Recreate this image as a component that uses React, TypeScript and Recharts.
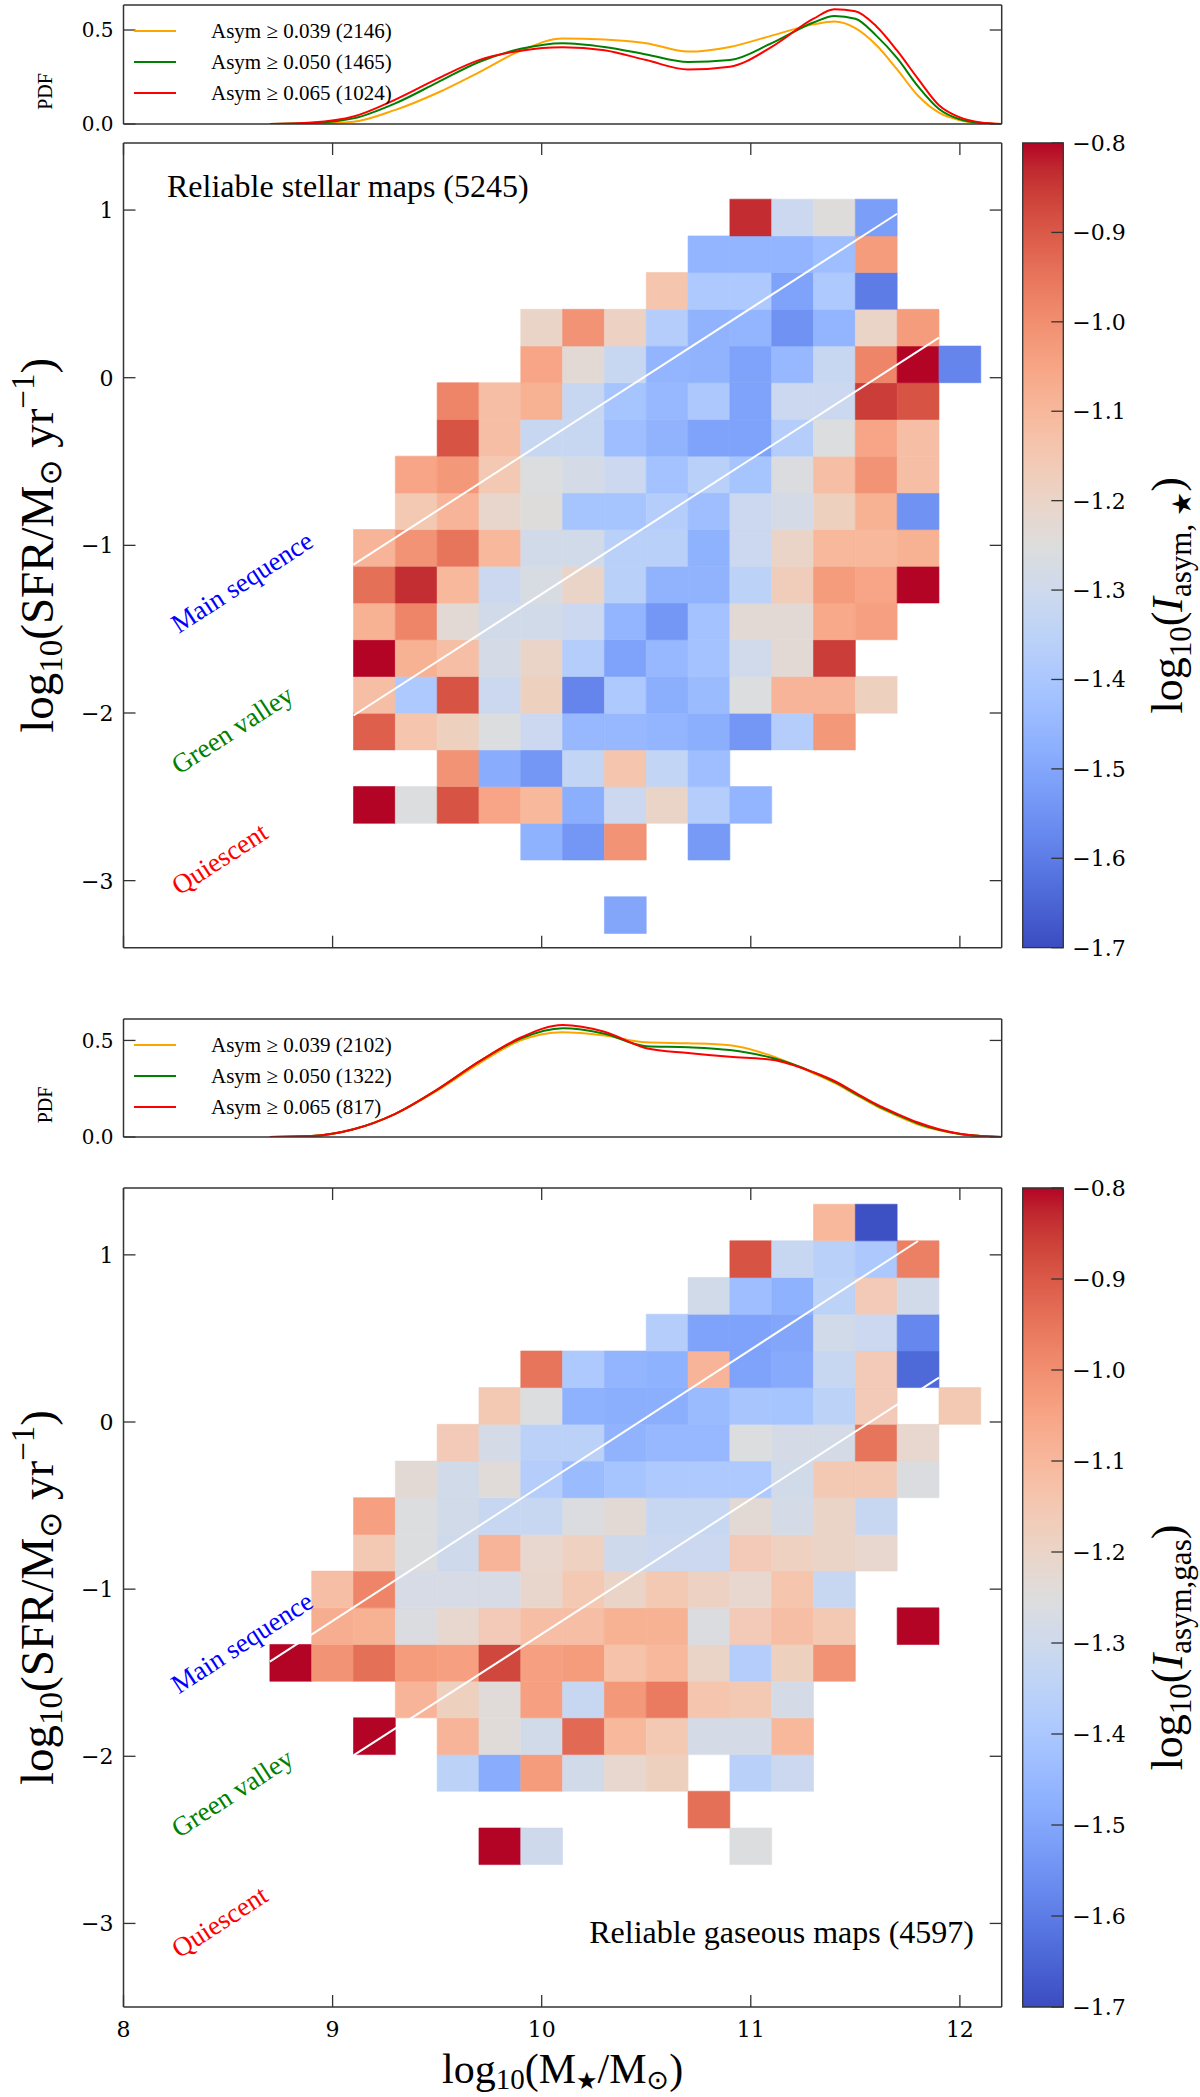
import React from 'react';
import { ComposedChart, XAxis, YAxis, Line, ReferenceArea, ReferenceLine, ReferenceDot } from 'recharts';

// ---------------- page / panel geometry ----------------
const PAGE_W = 1200;
const PAGE_H = 2097;
const PLOT_L = 123.5;
const PLOT_R = 1001.7;
const CB_L = 1022.7;
const CB_R = 1063.3;
const PDF1 = { top: 5, bottom: 124 };
const MAP1 = { top: 143, bottom: 947.7 };
const PDF2 = { top: 1019, bottom: 1137 };
const MAP2 = { top: 1188, bottom: 2007 };

const VMIN = -1.7;
const VMAX = -0.8;

// ---------------- data ----------------
const massEdges = [8.7, 8.9, 9.1, 9.3, 9.5, 9.7, 9.9, 10.1, 10.3, 10.5, 10.7, 10.9, 11.1, 11.3, 11.5, 11.7, 11.9, 12.1];
const stellarSfrEdges = [-3.315, -3.096, -2.877, -2.658, -2.439, -2.22, -2.001, -1.782, -1.563, -1.344, -1.125, -0.906, -0.687, -0.468, -0.249, -0.03, 0.189, 0.408, 0.627, 0.846, 1.065];
const gasSfrEdges = [-2.648, -2.429, -2.209, -1.99, -1.77, -1.551, -1.331, -1.112, -0.892, -0.673, -0.453, -0.234, -0.014, 0.206, 0.425, 0.645, 0.864, 1.084, 1.303];

const N = null;
// rows from lowest SFR bin upward, 17 mass columns (8.7 ... 12.1)
const stellarAsym: (number | null)[][] = [
  [N, N, N, N, N, N, N, N, -1.5, N, N, N, N, N, N, N, N],
  [N, N, N, N, N, N, N, N, N, N, N, N, N, N, N, N, N],
  [N, N, N, N, N, N, -1.47, -1.54, -1.01, N, -1.53, N, N, N, N, N, N],
  [N, N, -0.8, -1.255, -0.89, -1.05, -1.1, -1.48, -1.31, -1.2, -1.375, -1.46, N, N, N, N, N],
  [N, N, N, N, -1.01, -1.485, -1.54, -1.335, -1.14, -1.335, -1.43, N, N, N, N, N, N],
  [N, N, -0.91, -1.14, -1.18, -1.255, -1.31, -1.45, -1.45, -1.46, -1.48, -1.54, -1.375, -1.02, N, N, N],
  [N, N, -1.12, -1.39, -0.89, -1.31, -1.18, -1.58, -1.39, -1.48, -1.44, -1.255, -1.09, -1.09, -1.18, N, N],
  [N, N, -0.8, -1.08, -1.12, -1.28, -1.2, -1.375, -1.51, -1.45, -1.42, -1.295, -1.23, -0.855, N, N, N],
  [N, N, -1.08, -0.98, -1.23, -1.29, -1.29, -1.31, -1.46, -1.54, -1.42, -1.23, -1.23, -1.06, -1.04, N, N],
  [N, N, -0.94, -0.836, -1.1, -1.31, -1.27, -1.2, -1.36, -1.465, -1.465, -1.35, -1.17, -1.03, -1.05, -0.8, N],
  [N, N, -1.09, -1.01, -0.95, -1.1, -1.29, -1.29, -1.36, -1.36, -1.47, -1.31, -1.2, -1.1, -1.1, -1.08, N],
  [N, N, N, -1.155, -1.09, -1.21, -1.245, -1.41, -1.41, -1.375, -1.43, -1.31, -1.28, -1.18, -1.08, -1.55, N],
  [N, N, N, -1.05, -1.02, -1.155, -1.255, -1.28, -1.31, -1.42, -1.36, -1.41, -1.26, -1.12, -1.01, -1.12, N],
  [N, N, N, N, -0.89, -1.12, -1.32, -1.32, -1.43, -1.465, -1.51, -1.51, -1.375, -1.255, -1.05, -1.12, N],
  [N, N, N, N, -0.98, -1.12, -1.08, -1.32, -1.41, -1.45, -1.395, -1.51, -1.31, -1.31, -0.855, -0.89, N],
  [N, N, N, N, N, N, -1.05, -1.23, -1.32, -1.46, -1.465, -1.51, -1.45, -1.32, -0.98, -0.8, -1.58],
  [N, N, N, N, N, N, -1.2, -1.01, -1.19, -1.375, -1.465, -1.46, -1.55, -1.46, -1.2, -1.03, N],
  [N, N, N, N, N, N, N, N, N, -1.14, -1.39, -1.39, -1.51, -1.39, -1.6, N, N],
  [N, N, N, N, N, N, N, N, N, N, -1.46, -1.46, -1.46, -1.43, -1.03, N, N],
  [N, N, N, N, N, N, N, N, N, N, N, -0.835, -1.31, -1.245, -1.52, N, N],
];

const gasAsym: (number | null)[][] = [
  [N, N, N, N, N, -0.8, -1.3, N, N, N, N, -1.255, N, N, N, N, N],
  [N, N, N, N, N, N, N, N, N, N, -0.94, N, N, N, N, N, N],
  [N, N, N, N, -1.35, -1.485, -1.03, -1.29, -1.215, -1.18, N, -1.36, -1.31, N, N, N, N],
  [N, N, -0.8, N, -1.09, -1.24, -1.29, -0.93, -1.1, -1.155, -1.28, -1.28, -1.1, N, N, N, N],
  [N, N, N, -1.09, -1.18, -1.24, -1.04, -1.32, -1.02, -0.96, -1.14, -1.155, -1.28, N, N, N, N],
  [-0.8, -1.01, -0.94, -1.03, -1.04, -0.87, -1.04, -1.03, -1.13, -1.1, -1.2, -1.375, -1.18, -1.01, N, N, N],
  [N, -1.07, -1.08, -1.26, -1.215, -1.16, -1.12, -1.12, -1.08, -1.08, -1.26, -1.16, -1.12, -1.155, N, -0.8, N],
  [N, -1.12, -0.98, -1.275, -1.275, -1.275, -1.21, -1.155, -1.2, -1.155, -1.19, -1.215, -1.14, -1.32, N, N, N],
  [N, N, -1.155, -1.255, -1.3, -1.09, -1.215, -1.185, -1.3, -1.31, -1.31, -1.16, -1.185, -1.2, -1.215, N, N],
  [N, N, -1.04, -1.255, -1.29, -1.32, -1.32, -1.26, -1.23, -1.32, -1.32, -1.23, -1.28, -1.2, -1.32, N, N],
  [N, N, N, -1.23, -1.29, -1.24, -1.375, -1.44, -1.41, -1.39, -1.39, -1.39, -1.29, -1.155, -1.155, -1.26, N],
  [N, N, N, N, -1.16, -1.28, -1.355, -1.355, -1.465, -1.45, -1.45, -1.255, -1.28, -1.28, -0.95, -1.215, N],
  [N, N, N, N, N, -1.155, -1.255, -1.47, -1.48, -1.48, -1.44, -1.405, -1.41, -1.35, -1.16, N, -1.155],
  [N, N, N, N, N, N, -0.95, -1.39, -1.46, -1.47, -1.09, -1.51, -1.49, -1.32, -1.16, -1.64, N],
  [N, N, N, N, N, N, N, N, N, -1.375, -1.51, -1.51, -1.5, -1.29, -1.31, -1.575, N],
  [N, N, N, N, N, N, N, N, N, N, -1.29, -1.43, -1.47, -1.35, -1.16, -1.29, N],
  [N, N, N, N, N, N, N, N, N, N, N, -0.89, -1.32, -1.36, -1.395, -0.97, N],
  [N, N, N, N, N, N, N, N, N, N, N, N, N, -1.1, -1.69, N, N],
];

// main-sequence and green-valley dividing lines (end points)
const stellarMsLine = [{ x: 9.1, y: -1.115 }, { x: 11.7, y: 0.978 }];
const stellarGvLine = [{ x: 9.1, y: -2.015 }, { x: 11.9, y: 0.239 }];
const gasMsLine = [{ x: 8.7, y: -1.434 }, { x: 11.8, y: 1.083 }];
const gasGvLine = [{ x: 9.1, y: -1.995 }, { x: 11.9, y: 0.265 }];

// PDFs of stellar mass
const pdfMass = [8.7, 8.9, 9.1, 9.3, 9.5, 9.7, 9.9, 10.1, 10.3, 10.5, 10.7, 10.9, 11.1, 11.3, 11.4, 11.5, 11.6, 11.7, 11.8, 11.9, 12.0, 12.1, 12.2];
const stellarPdf039 = [0, 0.002, 0.012, 0.075, 0.165, 0.275, 0.39, 0.455, 0.45, 0.43, 0.385, 0.41, 0.47, 0.53, 0.545, 0.51, 0.42, 0.29, 0.15, 0.06, 0.02, 0.005, 0];
const stellarPdf050 = [0, 0.005, 0.03, 0.11, 0.22, 0.33, 0.4, 0.43, 0.41, 0.37, 0.33, 0.34, 0.43, 0.54, 0.575, 0.56, 0.47, 0.35, 0.2, 0.08, 0.025, 0.006, 0];
const stellarPdf065 = [0, 0.008, 0.04, 0.13, 0.24, 0.34, 0.39, 0.408, 0.392, 0.34, 0.29, 0.305, 0.41, 0.56, 0.61, 0.6, 0.52, 0.39, 0.24, 0.1, 0.035, 0.008, 0];
const gasPdf039 = [0, 0.005, 0.04, 0.12, 0.24, 0.38, 0.5, 0.542, 0.525, 0.49, 0.485, 0.475, 0.42, 0.33, 0.28, 0.22, 0.16, 0.11, 0.065, 0.035, 0.015, 0.005, 0];
const gasPdf050 = [0, 0.005, 0.04, 0.12, 0.245, 0.39, 0.51, 0.563, 0.535, 0.47, 0.465, 0.45, 0.41, 0.335, 0.285, 0.225, 0.165, 0.115, 0.07, 0.037, 0.016, 0.005, 0];
const gasPdf065 = [0, 0.005, 0.04, 0.12, 0.245, 0.39, 0.515, 0.58, 0.545, 0.46, 0.435, 0.415, 0.4, 0.335, 0.29, 0.23, 0.17, 0.12, 0.075, 0.04, 0.017, 0.005, 0];

const stellarLegend = ['Asym \u2265 0.039 (2146)', 'Asym \u2265 0.050 (1465)', 'Asym \u2265 0.065 (1024)'];
const gasLegend = ['Asym \u2265 0.039 (2102)', 'Asym \u2265 0.050 (1322)', 'Asym \u2265 0.065 (817)'];
const seriesColors = ['#FFA500', '#008000', '#FF0000'];

const massTicks = [8, 9, 10, 11, 12];
const sfrTicks = [-3, -2, -1, 0, 1];
const pdfTicks = [0, 0.5];
const cbTicks = [-1.7, -1.6, -1.5, -1.4, -1.3, -1.2, -1.1, -1.0, -0.9, -0.8];

const regionNames = ['Main sequence', 'Green valley', 'Quiescent'];
const regionColors = ['#0000FF', '#008000', '#FF0000'];
const stellarRegionX = [8.567, 8.52, 8.46];
const stellarRegionY = [-1.22, -2.1, -2.87];
const gasRegionX = [8.567, 8.52, 8.46];
const gasRegionY = [-1.32, -2.22, -2.99];

// ---------------- colormap (coolwarm) ----------------
const CW: number[][] = [
  [59, 76, 192], [68, 90, 204], [77, 104, 215], [87, 117, 225], [98, 130, 234], [108, 142, 241], [119, 154, 247], [130, 165, 251],
  [141, 176, 254], [152, 185, 255], [163, 194, 255], [174, 201, 253], [184, 208, 249], [194, 213, 244], [204, 217, 238], [213, 219, 230],
  [221, 221, 221], [229, 216, 209], [236, 211, 197], [241, 204, 185], [245, 196, 173], [247, 187, 160], [247, 177, 148], [247, 166, 135],
  [244, 154, 123], [241, 141, 111], [236, 127, 99], [229, 112, 88], [222, 96, 77], [213, 80, 66], [203, 62, 56], [192, 40, 47], [180, 4, 38],
];
function coolwarm(v: number): string {
  const t = Math.max(0, Math.min(1, (v - VMIN) / (VMAX - VMIN)));
  const f = t * 32;
  const i = Math.min(31, Math.floor(f));
  const u = f - i;
  const a = CW[i];
  const b = CW[i + 1];
  const c = [0, 1, 2].map((k) => Math.round(a[k] + (b[k] - a[k]) * u));
  return `rgb(${c[0]},${c[1]},${c[2]})`;
}

// ---------------- helpers ----------------
const AX = '#333';
const TICK_FONT = 'DejaVu Serif';
const TEXT_FONT = 'Liberation Serif';
const frame = { stroke: AX, strokeWidth: 1.5 };
const abs: React.CSSProperties = { position: 'absolute', left: 0, top: 0 };
const minus = (v: number, d: number) => (v < 0 ? '\u2212' + Math.abs(v).toFixed(d) : v.toFixed(d));

const makeLeftTick = (fmt: (v: number) => string, fs: number) => (p: any) => (
  <g>
    <line x1={PLOT_L} x2={PLOT_L + 12} y1={p.y} y2={p.y} stroke={AX} strokeWidth={1.3} />
    <text x={PLOT_L - 10} y={p.y} dy="0.36em" textAnchor="end" fontFamily={TICK_FONT} fontSize={fs} fill="#000">
      {fmt(p.payload.value)}
    </text>
  </g>
);
const rightTick = (p: any) => (
  <line x1={PLOT_R - 12} x2={PLOT_R} y1={p.y} y2={p.y} stroke={AX} strokeWidth={1.3} />
);
const makeBottomTick = (plotBottom: number, labels: boolean) => (p: any) => (
  <g>
    <line x1={p.x} x2={p.x} y1={plotBottom} y2={plotBottom - 12} stroke={AX} strokeWidth={1.3} />
    {labels ? (
      <text x={p.x} y={plotBottom + 30} textAnchor="middle" fontFamily={TICK_FONT} fontSize={22} fill="#000">
        {String(p.payload.value)}
      </text>
    ) : null}
  </g>
);
const makeTopTick = (plotTop: number) => (p: any) => (
  <line x1={p.x} x2={p.x} y1={plotTop} y2={plotTop + 12} stroke={AX} strokeWidth={1.3} />
);
const cbTick = (p: any) => (
  <g>
    <line x1={CB_R - 12} x2={CB_R} y1={p.y} y2={p.y} stroke={AX} strokeWidth={1.3} />
    <text x={CB_R + 9} y={p.y} dy="0.36em" textAnchor="start" fontFamily={TICK_FONT} fontSize={22} fill="#000">
      {minus(p.payload.value, 1)}
    </text>
  </g>
);
const noTick = () => <g />;

// ---------------- panels ----------------
function PdfPanel(props: { top: number; bottom: number; yMax: number; s: number[][] }) {
  const { top, bottom, yMax, s } = props;
  const data = pdfMass.map((x, i) => ({ x, a: s[0][i], b: s[1][i], c: s[2][i] }));
  return (
    <div style={abs}>
      <ComposedChart width={PAGE_W} height={PAGE_H} data={data}
        margin={{ top: top - 1, right: PAGE_W - PLOT_R - 1, bottom: PAGE_H - bottom - 1, left: 0 }}>
        <XAxis type="number" dataKey="x" domain={[8, 12.2]} allowDataOverflow height={1} tick={noTick} tickLine={false} axisLine={frame} />
        <XAxis xAxisId="t" orientation="top" type="number" dataKey="x" domain={[8, 12.2]} allowDataOverflow height={1} tick={noTick} tickLine={false} axisLine={frame} />
        <YAxis type="number" domain={[0, yMax]} allowDataOverflow ticks={pdfTicks} interval={0} width={PLOT_L} tickLine={false} axisLine={frame} tick={makeLeftTick((v) => v.toFixed(1), 20)} />
        <YAxis yAxisId="r" orientation="right" type="number" domain={[0, yMax]} allowDataOverflow ticks={pdfTicks} interval={0} width={1} tickLine={false} axisLine={frame} tick={rightTick} />
        {['a', 'b', 'c'].map((k, i) => (
          <Line key={k} dataKey={k} type="monotone" stroke={seriesColors[i]} strokeWidth={2} dot={false} isAnimationActive={false} />
        ))}
      </ComposedChart>
    </div>
  );
}

function MapPanel(props: {
  top: number; bottom: number; yMin: number; grid: (number | null)[][]; edges: number[];
  ms: { x: number; y: number }[]; gv: { x: number; y: number }[]; xLabels: boolean; rx: number[]; ry: number[];
}) {
  const { top, bottom, yMin, grid, edges, ms, gv, xLabels, rx, ry } = props;
  const cells: React.ReactNode[] = [];
  grid.forEach((row, k) =>
    row.forEach((v, j) => {
      if (v === null) return;
      const col = coolwarm(v);
      cells.push(
        <ReferenceArea key={`c${k}-${j}`} x1={massEdges[j]} x2={massEdges[j + 1]} y1={edges[k]} y2={edges[k + 1]}
          fill={col} fillOpacity={1} stroke={col} strokeWidth={0.6} />
      );
    })
  );
  return (
    <div style={abs}>
      <ComposedChart width={PAGE_W} height={PAGE_H} data={[{ x: 10, y: 0 }]}
        margin={{ top: top - 1, right: PAGE_W - PLOT_R - 1, bottom: PAGE_H - bottom - 1, left: 0 }}>
        <XAxis type="number" dataKey="x" domain={[8, 12.2]} allowDataOverflow ticks={massTicks} interval={0} height={1} tickLine={false} axisLine={frame} tick={makeBottomTick(bottom, xLabels)} />
        <XAxis xAxisId="t" orientation="top" type="number" dataKey="x" domain={[8, 12.2]} allowDataOverflow ticks={massTicks} interval={0} height={1} tickLine={false} axisLine={frame} tick={makeTopTick(top)} />
        <YAxis type="number" dataKey="y" domain={[yMin, 1.4]} allowDataOverflow ticks={sfrTicks} interval={0} width={PLOT_L} tickLine={false} axisLine={frame} tick={makeLeftTick((v) => minus(v, 0), 22)} />
        <YAxis yAxisId="r" orientation="right" type="number" domain={[yMin, 1.4]} allowDataOverflow ticks={sfrTicks} interval={0} width={1} tickLine={false} axisLine={frame} tick={rightTick} />
        {cells}
        <ReferenceLine segment={ms} stroke="#fff" strokeWidth={2} />
        <ReferenceLine segment={gv} stroke="#fff" strokeWidth={2} />
        {regionNames.map((name, i) => (
          <ReferenceDot key={name} x={rx[i]} y={ry[i]} r={0}
            shape={(p: any) => (
              <text x={p.cx} y={p.cy} transform={`rotate(-33 ${p.cx} ${p.cy})`} textAnchor="middle" dominantBaseline="central"
                fontFamily={TEXT_FONT} fontSize={27} fill={regionColors[i]}>{name}</text>
            )} />
        ))}
      </ComposedChart>
    </div>
  );
}

function Colorbar(props: { top: number; bottom: number; id: string }) {
  const { top, bottom, id } = props;
  return (
    <div style={abs}>
      <ComposedChart width={PAGE_W} height={PAGE_H} data={[{ x: 0 }, { x: 1 }]}
        margin={{ top, right: PAGE_W - CB_R - 1, bottom: PAGE_H - bottom, left: CB_L }}>
        <defs>
          <linearGradient id={id} x1="0" y1="1" x2="0" y2="0">
            {CW.map((c, i) => (
              <stop key={i} offset={i / 32} stopColor={`rgb(${c[0]},${c[1]},${c[2]})`} />
            ))}
          </linearGradient>
        </defs>
        <XAxis type="number" dataKey="x" domain={[0, 1]} hide />
        <YAxis orientation="right" type="number" domain={[VMIN, VMAX]} allowDataOverflow ticks={cbTicks} interval={0} width={1} tickLine={false} axisLine={false} tick={cbTick} />
        <ReferenceArea x1={0} x2={1} y1={VMIN} y2={VMAX} fill={`url(#${id})`} fillOpacity={1} stroke={AX} strokeWidth={1.3} />
      </ComposedChart>
    </div>
  );
}

function Legend(props: { top: number; labels: string[] }) {
  return (
    <g>
      {props.labels.map((l, i) => {
        const y = props.top + 26 + i * 31;
        return (
          <g key={l}>
            <line x1={134} x2={176} y1={y} y2={y} stroke={seriesColors[i]} strokeWidth={2} />
            <text x={211} y={y} dy="0.35em" fontFamily={TEXT_FONT} fontSize={21} fill="#000">{l}</text>
          </g>
        );
      })}
    </g>
  );
}

function YLabel(props: { cy: number }) {
  return (
    <text transform={`translate(53 ${props.cy}) rotate(-90)`} textAnchor="middle" fontFamily={TEXT_FONT} fontSize={47} fill="#000">
      log<tspan dy={9} fontSize={33}>10</tspan>
      <tspan dy={-9}>(SFR/M</tspan>
      <tspan dy={8} fontSize={31} fontFamily="DejaVu Sans">{'\u2299'}</tspan>
      <tspan dy={-8}> yr</tspan>
      <tspan dy={-19} fontSize={33}>{'\u22121'}</tspan>
      <tspan dy={19}>)</tspan>
    </text>
  );
}

function CbLabel(props: { cy: number; sub: string; star: boolean }) {
  return (
    <text transform={`translate(1182 ${props.cy}) rotate(-90)`} textAnchor="middle" fontFamily={TEXT_FONT} fontSize={44} fill="#000">
      log<tspan dy={9} fontSize={31}>10</tspan>
      <tspan dy={-9}>(</tspan>
      <tspan fontStyle="italic">I</tspan>
      <tspan dy={9} fontSize={31}>{props.sub}</tspan>
      {props.star ? <tspan fontSize={27} fontFamily="DejaVu Sans">{'\u2605'}</tspan> : null}
      <tspan dy={-9}>)</tspan>
    </text>
  );
}

export default function App() {
  const m1c = (MAP1.top + MAP1.bottom) / 2;
  const m2c = (MAP2.top + MAP2.bottom) / 2;
  return (
    <div style={{ position: 'absolute', left: 0, top: 0, width: PAGE_W, height: PAGE_H, background: '#fff', overflow: 'hidden' }}>
      <PdfPanel top={PDF1.top} bottom={PDF1.bottom} yMax={0.633} s={[stellarPdf039, stellarPdf050, stellarPdf065]} />
      <MapPanel top={MAP1.top} bottom={MAP1.bottom} yMin={-3.4} grid={stellarAsym} edges={stellarSfrEdges} ms={stellarMsLine} gv={stellarGvLine}
        xLabels={false} rx={stellarRegionX} ry={stellarRegionY} />
      <Colorbar top={MAP1.top} bottom={MAP1.bottom} id="cwA" />
      <PdfPanel top={PDF2.top} bottom={PDF2.bottom} yMax={0.611} s={[gasPdf039, gasPdf050, gasPdf065]} />
      <MapPanel top={MAP2.top} bottom={MAP2.bottom} yMin={-3.5} grid={gasAsym} edges={gasSfrEdges} ms={gasMsLine} gv={gasGvLine}
        xLabels={true} rx={gasRegionX} ry={gasRegionY} />
      <Colorbar top={MAP2.top} bottom={MAP2.bottom} id="cwB" />
      <svg width={PAGE_W} height={PAGE_H} style={{ ...abs, pointerEvents: 'none' }}>
        <Legend top={PDF1.top} labels={stellarLegend} />
        <Legend top={PDF2.top} labels={gasLegend} />
        <text transform={`translate(52 ${(PDF1.top + PDF1.bottom) / 2 + 27}) rotate(-90)`} textAnchor="middle" fontFamily={TEXT_FONT} fontSize={20}>PDF</text>
        <text transform={`translate(52 ${(PDF2.top + PDF2.bottom) / 2 + 27}) rotate(-90)`} textAnchor="middle" fontFamily={TEXT_FONT} fontSize={20}>PDF</text>
        <text x={167} y={197} fontFamily={TEXT_FONT} fontSize={32}>Reliable stellar maps (5245)</text>
        <text x={974} y={1943} textAnchor="end" fontFamily={TEXT_FONT} fontSize={32}>Reliable gaseous maps (4597)</text>
        <YLabel cy={m1c} />
        <YLabel cy={m2c} />
        <CbLabel cy={m1c + 50} sub="asym, " star={true} />
        <CbLabel cy={m2c + 50} sub="asym,gas" star={false} />
        <text x={(PLOT_L + PLOT_R) / 2} y={2083} textAnchor="middle" fontFamily={TEXT_FONT} fontSize={42}>
          log<tspan dy={6} fontSize={29}>10</tspan>
          <tspan dy={-6}>(M</tspan>
          <tspan dy={6} fontSize={24} fontFamily="DejaVu Sans">{'\u2605'}</tspan>
          <tspan dy={-6}>/M</tspan>
          <tspan dy={6} fontSize={27} fontFamily="DejaVu Sans">{'\u2299'}</tspan>
          <tspan dy={-6}>)</tspan>
        </text>
      </svg>
    </div>
  );
}
